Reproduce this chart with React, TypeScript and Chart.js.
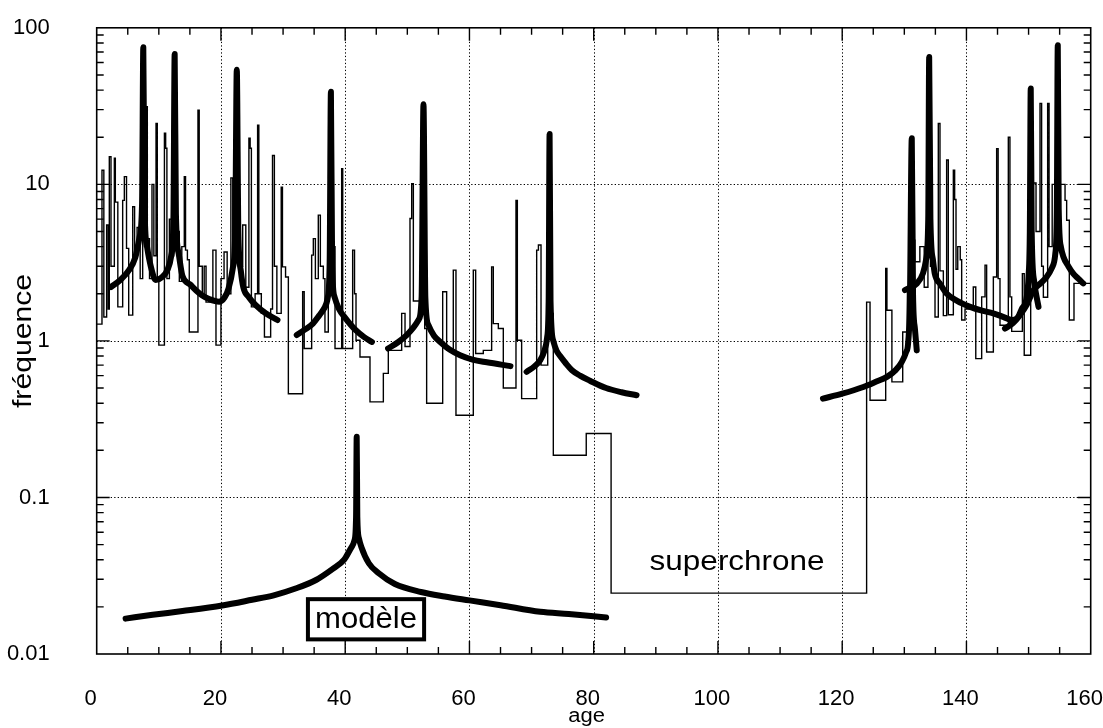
import React, { useEffect, useRef } from "react";
import { Chart, registerables } from "chart.js";

Chart.register(...registerables);

const FONT = '"Liberation Sans", Arial, Helvetica, sans-serif';

// ---- axes ----
const xTickValues = [0, 20, 40, 60, 80, 100, 120, 140, 160];
const yTickValues = [0.01, 0.1, 1, 10, 100];
const yTickLabels = ["0.01", "0.1", "1", "10", "100"];
const xGridValues = [20, 40, 60, 80, 100, 120, 140];
const yGridValues = [0.1, 1, 10];

// ---- observed reversal frequency (thin stepped line) ----
const histAges = [
  0, 0.85, 1.15, 1.6, 1.85, 2.03, 2.3, 2.84, 3.0, 3.4, 4.18, 4.45, 4.8, 5.15, 5.8, 6.1, 6.5, 7.0, 7.4, 7.7,
  7.93, 8.15, 8.5, 8.9, 9.2, 9.55, 9.75, 10.0, 10.9, 11.1, 11.3, 11.7, 12.0, 12.4, 12.9, 13.3, 13.7, 14.1, 14.3, 14.6,
  14.9, 16.3, 16.5, 17.0, 17.3, 17.6, 18.7, 19.2, 20.0, 20.5, 21.0, 21.6, 21.9, 22.4, 23.0, 23.5, 24.0, 24.5, 24.7, 24.9,
  25.5, 25.9, 26.1, 26.5, 27.0, 28.0, 28.3, 28.6, 29.0, 29.7, 29.9, 30.4, 30.85, 33.15, 33.4, 34.6, 34.87, 35.2, 35.67, 36.0,
  36.48, 36.74, 37.28, 37.6, 38.0, 38.36, 39.43, 39.6, 41.2, 41.5, 41.74, 42.38, 43.99, 46.14, 46.94, 49.09, 49.63, 50.43, 50.7, 50.97,
  52.0, 52.8, 53.11, 55.69, 56.33, 57.4, 57.83, 60.62, 61.0, 62.23, 63.57, 63.84, 64.65, 65.45, 67.49, 67.71, 68.4, 70.82, 71.1, 71.52,
  72.6, 73.5, 78.8, 82.8, 123.93, 124.48, 127.0, 127.2, 128.0, 129.74, 130.5, 131.0, 131.3, 131.7, 132.5, 133.2, 133.8, 134.2, 134.94, 135.47,
  135.74, 136.28, 136.81, 137.08, 137.89, 138.1, 138.32, 138.6, 139.0, 139.23, 139.77, 141.1, 141.5, 142.45, 142.99, 143.25, 144.33, 144.86, 145.1, 145.4,
  146.74, 147.0, 147.28, 149.0, 149.3, 150.34, 150.77, 151.2, 151.84, 152.1, 152.38, 153.07, 153.3, 153.8, 154.3, 155.0, 155.87, 156.13, 156.56, 157.31,
  160,
];
const histValues = [
  1.28, 12.3, 1.42, 5.5, 1.6, 15, 3.0, 14.7, 7.7, 1.65, 7.9, 11.2, 3.9, 1.46, 7.2, 3.5, 5.3, 2.5, 12, 4,
  31.3, 4.5, 2.5, 10, 3.5, 24.5, 2.4, 0.94, 21.2, 17, 2.5, 6, 3.5, 8, 5, 2.4, 4.0, 11.2, 3.8, 3.3,
  1.14, 29.8, 3.0, 1.9, 3.0, 1.77, 3.8, 0.94, 2.5, 3.7, 2.0, 11, 4, 6, 3, 5.5, 2.2, 19.7, 17, 1.65,
  2.0, 23.9, 2.0, 1.5, 1.06, 1.6, 15.3, 3, 1.5, 9.6, 2.97, 2.56, 0.46, 2.06, 0.894, 3.53, 4.5, 2.5, 6.36, 3.0,
  2.5, 1.14, 3, 8, 4, 0.894, 12.6, 0.894, 3.8, 2.0, 1.01, 0.79, 0.408, 0.62, 0.87, 1.5, 0.92, 6.05, 10.1, 1.8,
  3, 1.2, 0.4, 2.06, 0.87, 2.83, 0.335, 2.83, 0.83, 0.87, 2.97, 1.29, 1.2, 0.5, 7.9, 1.01, 0.428, 3.8, 4.1, 0.7,
  1.5, 0.186, 0.256, 0.0245, 1.77, 0.418, 2.9, 1.57, 0.547, 1.14, 2.11, 20, 4.4, 3.2, 4.0, 2.2, 8, 3, 1.42, 24.5,
  2.8, 1.45, 14.3, 1.47, 12.3, 8, 2.87, 4.0, 3.3, 1.36, 1.6, 2.21, 0.77, 1.91, 3.05, 0.85, 2.56, 16.9, 2.5, 1.26,
  20, 1.91, 1.15, 2.69, 0.81, 4, 10.2, 5, 32.9, 3, 1.9, 32.9, 4, 10, 6, 10, 7.9, 5.9, 1.36, 2.33,
  2.33,
];

// ---- fitted peaks (thick lines) ----
const curve1Ages = [2.3, 3.8, 5.2, 6.2, 6.9, 7.3, 7.5, 7.7, 8.1, 8.7, 9.5, 10.5, 11.4, 12.0, 12.35, 12.55, 12.75, 13.2, 13.8, 15.0, 16.0, 17.0, 18.1, 19.7, 20.6, 21.2, 21.9, 22.3, 22.55, 22.8, 23.2, 23.6, 24.5, 25.6, 27.2, 29.1];
const curve1Values = [2.21, 2.45, 2.83, 3.4, 4.6, 7.5, 75, 7, 4.0, 3.0, 2.45, 2.55, 2.85, 3.5, 6, 68, 6.5, 3.6, 2.6, 2.3, 2.1, 1.95, 1.85, 1.78, 1.9, 2.15, 2.9, 5, 54, 5, 2.8, 2.2, 1.9, 1.69, 1.5, 1.36];
const curve2Ages = [32.2, 33.5, 34.8, 35.8, 36.6, 37.2, 37.5, 37.7, 37.9, 38.3, 39.0, 39.9, 41.7, 43.0, 44.3];
const curve2Values = [1.09, 1.18, 1.29, 1.45, 1.61, 1.9, 3.2, 39, 3.0, 1.9, 1.6, 1.42, 1.17, 1.06, 0.985];
const curve3Ages = [46.9, 48.5, 49.9, 51.0, 51.8, 52.3, 52.6, 52.9, 53.4, 54.3, 55.3, 56.8, 58.5, 60.5, 62.8, 66.6];
const curve3Values = [0.894, 0.98, 1.09, 1.22, 1.36, 1.9, 32.5, 1.9, 1.26, 1.08, 0.985, 0.88, 0.81, 0.76, 0.73, 0.69];
const curve4Ages = [69.2, 70.5, 71.4, 72.0, 72.5, 72.75, 72.9, 73.05, 73.5, 74.0, 74.6, 75.5, 76.5, 77.8, 79.4, 82.0, 84.5, 86.9];
const curve4Values = [0.634, 0.69, 0.753, 0.85, 1.05, 1.8, 21, 1.8, 1.0, 0.87, 0.8, 0.72, 0.65, 0.6, 0.557, 0.5, 0.47, 0.45];
const curve5Ages = [116.9, 120.0, 123.4, 125.5, 127.2, 128.6, 129.6, 130.3, 130.6, 130.9, 131.2, 131.4, 131.7, 132.0];
const curve5Values = [0.428, 0.46, 0.508, 0.55, 0.589, 0.65, 0.734, 0.85, 0.96, 1.82, 19.7, 2.0, 1.2, 0.87];
const curve6Ages = [130.1, 131.0, 131.9, 133.0, 133.5, 133.85, 134.0, 134.2, 134.6, 134.9, 135.8, 136.8, 138.5, 140.6, 142.5, 144.3, 146.0, 147.3, 148.2, 148.9, 149.7, 150.0, 150.2, 150.35, 150.5, 150.9, 151.6];
const curve6Values = [2.11, 2.2, 2.3, 2.7, 3.3, 6, 65, 6, 3.3, 2.69, 2.3, 2.01, 1.8, 1.65, 1.56, 1.5, 1.42, 1.36, 1.4, 1.6, 1.91, 2.6, 5, 41, 5, 2.4, 1.65];
const curve7Ages = [146.2, 147.5, 148.6, 149.7, 150.8, 152.0, 152.9, 153.8, 154.3, 154.55, 154.7, 154.85, 155.2, 155.6, 156.4, 157.2, 158.0, 158.8];
const curve7Values = [1.2, 1.3, 1.46, 1.7, 2.11, 2.35, 2.56, 2.95, 3.6, 7, 77.5, 7, 4, 3.45, 3.0, 2.69, 2.5, 2.33];

// ---- model curve ----
const modelAges = [4.65, 9, 13.8, 20.2, 25, 28.5, 32, 35.3, 38, 39.8, 41.0, 41.5, 41.75, 41.85, 41.95, 42.2, 42.6, 43.8, 45.4, 48, 52.2, 56, 60, 65, 71.4, 76, 82.0];
const modelValues = [0.01683, 0.0178, 0.0188, 0.0204, 0.0222, 0.0237, 0.0262, 0.0297, 0.035, 0.0399, 0.048, 0.0534, 0.075, 0.244, 0.075, 0.055, 0.0483, 0.038, 0.0328, 0.028, 0.0249, 0.0233, 0.022, 0.0205, 0.0186, 0.018, 0.0171];

const toPoints = (xs: number[], ys: number[]) => xs.map((x, i) => ({ x, y: ys[i] }));

const thick = (xs: number[], ys: number[]) => ({
  data: toPoints(xs, ys),
  borderColor: "#000",
  borderWidth: 6,
  pointRadius: 0,
  borderJoinStyle: "round" as const,
  borderCapStyle: "round" as const,
  cubicInterpolationMode: "monotone" as const,
  fill: false,
});

const decorPlugin = {
  id: "decor",
  beforeDatasetsDraw(chart: any) {
    const { ctx, chartArea: a, scales } = chart;
    const x = scales.x, y = scales.y;
    ctx.save();
    ctx.strokeStyle = "#000";
    ctx.lineWidth = 1;
    ctx.setLineDash([1.3, 2.2]);
    for (const v of xGridValues) {
      const px = Math.round(x.getPixelForValue(v)) + 0.5;
      ctx.beginPath(); ctx.moveTo(px, a.top); ctx.lineTo(px, a.bottom); ctx.stroke();
    }
    for (const v of yGridValues) {
      const py = Math.round(y.getPixelForValue(v)) + 0.5;
      ctx.beginPath(); ctx.moveTo(a.left, py); ctx.lineTo(a.right, py); ctx.stroke();
    }
    ctx.restore();
  },
  afterDatasetsDraw(chart: any) {
    const { ctx, chartArea: a, scales } = chart;
    const x = scales.x, y = scales.y;
    ctx.save();
    ctx.strokeStyle = "#000";
    ctx.lineWidth = 1.6;
    ctx.setLineDash([]);
    ctx.strokeRect(a.left, a.top, a.right - a.left, a.bottom - a.top);
    ctx.lineWidth = 1.4;
    for (let v = 5; v < 160; v += 5) {
      const major = v % 20 === 0;
      const len = major ? 13 : 7;
      const px = x.getPixelForValue(v);
      ctx.beginPath();
      ctx.moveTo(px, a.bottom); ctx.lineTo(px, a.bottom - len);
      ctx.moveTo(px, a.top); ctx.lineTo(px, a.top + len);
      ctx.stroke();
    }
    for (const d of [0.01, 0.1, 1, 10]) {
      for (let m = 1; m <= 9; m++) {
        const v = d * m;
        if (v <= 0.01) continue;
        const len = m === 1 ? 13 : 7;
        const py = y.getPixelForValue(v);
        ctx.beginPath();
        ctx.moveTo(a.left, py); ctx.lineTo(a.left + len, py);
        ctx.moveTo(a.right, py); ctx.lineTo(a.right - len, py);
        ctx.stroke();
      }
    }
    ctx.fillStyle = "#000";
    const drawStretched = (text: string, px: number, py: number, size: number, width: number, align: "left" | "center") => {
      ctx.font = `${size}px ${FONT}`;
      const w = ctx.measureText(text).width;
      const sx = width / w;
      ctx.save();
      ctx.translate(px, py);
      ctx.scale(sx, 1);
      ctx.textAlign = align;
      ctx.textBaseline = "alphabetic";
      ctx.fillText(text, 0, 0);
      ctx.restore();
    };
    drawStretched("superchrone", x.getPixelForValue(89.0), y.getPixelForValue(0.0346), 28, 175, "left");
    const bx1 = x.getPixelForValue(34.0), bx2 = x.getPixelForValue(52.7);
    const by1 = y.getPixelForValue(0.0224), by2 = y.getPixelForValue(0.0124);
    ctx.fillStyle = "#fff";
    ctx.fillRect(bx1, by1, bx2 - bx1, by2 - by1);
    ctx.fillStyle = "#000";
    ctx.lineWidth = 4;
    ctx.strokeRect(bx1, by1, bx2 - bx1, by2 - by1);
    drawStretched("modèle", (bx1 + bx2) / 2, y.getPixelForValue(0.0146), 29, 102, "center");
    ctx.restore();
  },
  afterDraw(chart: any) {
    const { ctx } = chart;
    ctx.save();
    ctx.fillStyle = "#000";
    ctx.font = `25px ${FONT}`;
    const w = ctx.measureText("fréquence").width;
    ctx.translate(31, 341);
    ctx.rotate(-Math.PI / 2);
    ctx.scale(134 / w, 1);
    ctx.textAlign = "center";
    ctx.textBaseline = "alphabetic";
    ctx.fillText("fréquence", 0, 0);
    ctx.restore();
    ctx.save();
    ctx.fillStyle = "#000";
    ctx.font = `20px ${FONT}`;
    const w2 = ctx.measureText("age").width;
    ctx.translate(586.7, 722);
    ctx.scale(36.7 / w2, 1);
    ctx.textAlign = "center";
    ctx.fillText("age", 0, 0);
    ctx.restore();
  },
};

export default function App() {
  const ref = useRef<HTMLCanvasElement | null>(null);
  useEffect(() => {
    if (!ref.current) return;
    const chart = new Chart(ref.current, {
      type: "line",
      data: {
        datasets: [
          thick(modelAges, modelValues),
          thick(curve1Ages, curve1Values),
          thick(curve2Ages, curve2Values),
          thick(curve3Ages, curve3Values),
          thick(curve4Ages, curve4Values),
          thick(curve5Ages, curve5Values),
          thick(curve6Ages, curve6Values),
          thick(curve7Ages, curve7Values),
          {
            data: toPoints(histAges, histValues),
            borderColor: "#000",
            borderWidth: 1.4,
            pointRadius: 0,
            stepped: "before",
            fill: false,
          } as any,
        ],
      },
      options: {
        animation: false,
        responsive: false,
        maintainAspectRatio: false,
        events: [],
        layout: { padding: { top: 27.8, right: 12.3, left: 0, bottom: 0 } },
        plugins: { legend: { display: false }, tooltip: { enabled: false } },
        scales: {
          x: {
            type: "linear",
            min: 0,
            max: 160,
            grid: { display: false },
            border: { display: false },
            afterBuildTicks: (s: any) => {
              s.ticks = xTickValues.map((v) => ({ value: v }));
            },
            ticks: {
              font: { size: 22, family: FONT },
              color: "#000",
              padding: 24,
              labelOffset: -6,
              maxRotation: 0,
              autoSkip: false,
              callback: (v: any) => String(v),
            },
            afterFit: (s: any) => {
              s.height = 74;
              s.paddingLeft = 0;
              s.paddingRight = 0;
            },
          },
          y: {
            type: "logarithmic",
            min: 0.01,
            max: 100,
            grid: { display: false },
            border: { display: false },
            afterBuildTicks: (s: any) => {
              s.ticks = yTickValues.map((v) => ({ value: v }));
            },
            ticks: {
              font: { size: 22, family: FONT },
              color: "#000",
              padding: 39,
              autoSkip: false,
              callback: (v: any) => {
                const i = yTickValues.findIndex((t) => Math.abs(t - v) / t < 1e-6);
                return i >= 0 ? yTickLabels[i] : "";
              },
            },
            afterFit: (s: any) => {
              s.width = 96.7;
              s.paddingTop = 0;
              s.paddingBottom = 0;
            },
          },
        },
      },
      plugins: [decorPlugin],
    });
    return () => chart.destroy();
  }, []);
  return (
    <div style={{ position: "fixed", left: 0, top: 0, width: 1103, height: 728, background: "#fff" }}>
      <canvas ref={ref} width={1103} height={728} />
    </div>
  );
}
